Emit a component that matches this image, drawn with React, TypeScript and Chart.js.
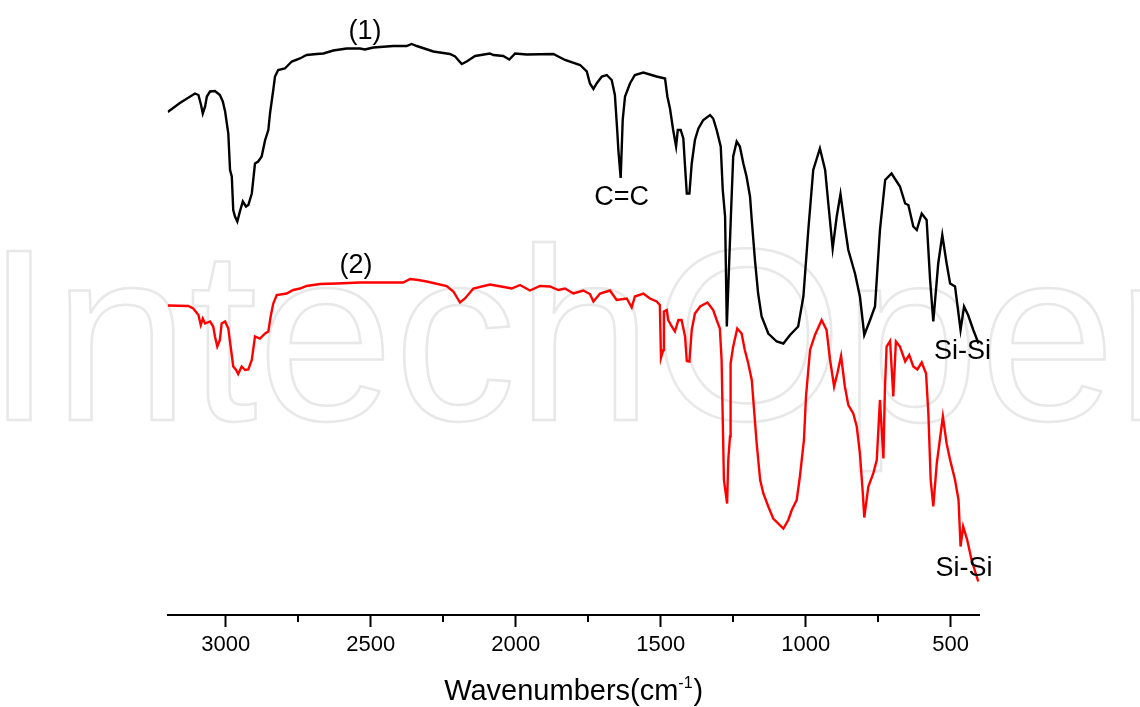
import React, { useEffect, useRef } from 'react';
import { Chart, registerables } from 'chart.js';

Chart.register(...registerables);

// Spectrum (1) – black
const wavenumbers1 = [
  3200, 3158, 3106, 3094, 3085, 3079, 3071, 3065, 3054, 3037,
  3020, 3010, 3002, 2991, 2985, 2979, 2974, 2968, 2960, 2951,
  2941, 2930, 2922, 2910, 2899, 2888, 2876, 2864, 2853, 2847,
  2836, 2830, 2819, 2796, 2772, 2744, 2721, 2686, 2663, 2629,
  2583, 2537, 2520, 2491, 2422, 2376, 2359, 2341, 2284, 2227,
  2209, 2186, 2169, 2140, 2089, 2077, 2043, 2022, 2002, 1962,
  1870, 1830, 1778, 1755, 1744, 1732, 1721, 1703, 1686, 1669,
  1658, 1650, 1646, 1638, 1631, 1623, 1606, 1589, 1560, 1514,
  1485, 1477, 1468, 1457, 1447, 1441, 1431, 1422, 1416, 1410,
  1401, 1393, 1382, 1370, 1353, 1330, 1319, 1307, 1293, 1286,
  1278, 1272, 1264, 1258, 1250, 1238, 1227, 1215, 1204, 1192,
  1186, 1175, 1164, 1152, 1129, 1100, 1077, 1054, 1026, 1008,
  991, 974, 951, 933, 922, 907, 893, 880, 865, 853,
  830, 813, 798, 778, 761, 744, 726, 704, 675, 657,
  646, 629, 617, 600, 583, 571, 560, 543, 529, 514,
  502, 485, 466, 454, 440, 422, 404,
];
const transmittance1 = [
  100.6, 102.4, 104.3, 104, 102, 100.3, 101.7, 103.7, 104.7, 104.8,
  104, 102.7, 100.7, 96.3, 89, 87.7, 81, 79.7, 78.7, 80.7,
  82.7, 81.7, 82, 84.3, 90.3, 90.7, 91.7, 95, 97, 100.4,
  105, 107.7, 109, 109.3, 110.7, 111.3, 112, 112.2, 112.3, 112.9,
  113.3, 113.3, 113.1, 113.5, 113.8, 113.8, 114.2, 113.8, 112.7, 112.2,
  111.7, 110.2, 110.7, 111.8, 112.3, 112, 111.8, 111.1, 112.3, 112.1,
  112.2, 111, 110, 108.7, 106.3, 105.2, 106.3, 107.7, 108, 107,
  104, 97, 93, 87.4, 99, 103.7, 106.3, 108, 108.5, 107.7,
  107.3, 103.7, 101.3, 97, 93.7, 97, 97, 95.3, 89.7, 84.3,
  84.3, 90.3, 95, 97.3, 99, 100, 99.3, 97, 93.7, 85,
  79.7, 57.7, 70.3, 79.7, 91.7, 94.7, 93.7, 90.3, 87.7, 83.7,
  79, 71, 64.3, 59.7, 56.3, 54.7, 54.3, 56, 57.7, 63.7,
  77, 89, 93.3, 89, 82.3, 73.3, 79.7, 84.2, 77.7, 73,
  68.3, 63.7, 56, 59, 61.7, 77, 87, 88.3, 85.7, 82.3,
  82, 77.7, 77, 80.3, 79, 67, 58.7, 70.3, 76, 70.3,
  66.3, 65.7, 57, 61.7, 60, 57, 54.3,
];

// Spectrum (2) – red
const wavenumbers2 = [
  3200, 3129, 3112, 3094, 3086, 3079, 3071, 3054, 3043, 3037,
  3029, 3020, 3014, 3002, 2991, 2983, 2974, 2964, 2957, 2945,
  2933, 2922, 2910, 2899, 2882, 2864, 2853, 2845, 2836, 2824,
  2790, 2767, 2744, 2721, 2675, 2617, 2537, 2388, 2364, 2336,
  2307, 2238, 2215, 2192, 2175, 2146, 2089, 2031, 2014, 1985,
  1951, 1916, 1882, 1853, 1830, 1801, 1767, 1744, 1732, 1709,
  1675, 1652, 1617, 1600, 1589, 1560, 1537, 1514, 1503, 1499,
  1491, 1489, 1479, 1474, 1462, 1451, 1439, 1428, 1416, 1410,
  1401, 1393, 1382, 1364, 1339, 1319, 1307, 1296, 1290, 1282,
  1271, 1267, 1261, 1259, 1250, 1236, 1221, 1210, 1198, 1186,
  1178, 1169, 1157, 1146, 1129, 1112, 1077, 1060, 1048, 1031,
  1020, 1006, 999, 985, 968, 945, 928, 916, 902, 891,
  878, 865, 853, 836, 824, 813, 803, 798, 784, 767,
  755, 744, 732, 727, 721, 709, 698, 689, 675, 657,
  643, 629, 615, 600, 585, 577, 569, 560, 548, 527,
  514, 502, 485, 473, 466, 457, 443, 428, 405,
];
const transmittance2 = [
  61.9, 61.8, 61.3, 60, 58, 59.3, 58.3, 58.7, 57.7, 55.7,
  53.7, 55, 58.3, 58.7, 57.3, 53.7, 49.7, 49, 48.2, 49.7,
  49, 49.1, 51, 55.7, 55.3, 56.3, 56.7, 59.7, 62.3, 64,
  64.3, 65, 65.3, 65.8, 66.2, 66.3, 66.5, 66.5, 67.2, 67,
  66.7, 65.8, 64.7, 62.5, 63.3, 65.3, 66.1, 65.5, 65.3, 66,
  64.9, 65.8, 65.7, 65, 65.3, 64.3, 64.9, 64.2, 62.7, 64.3,
  64.9, 63, 63.3, 61.5, 63.7, 64.3, 63.3, 62.7, 62, 51.4,
  53, 60.7, 61, 59, 57.7, 56.7, 59, 59, 55.7, 50.8,
  50.7, 57, 60.3, 61.7, 62.5, 61, 59, 57.3, 51, 27,
  22.3, 31, 35.7, 50.3, 53.7, 57.3, 56.3, 53, 50.3, 47,
  41, 34.3, 27, 24.3, 21.7, 19.3, 17.3, 19, 21, 23,
  27.7, 35, 43.7, 53, 56, 59, 57, 51, 45.7, 48.3,
  51.8, 45.7, 42, 40.3, 37.7, 32.3, 24.3, 19.5, 25.7, 28.3,
  31, 43, 31.3, 45, 53.7, 54.8, 43.7, 54.7, 53.7, 50.7,
  52, 49.7, 49.1, 50.5, 48.3, 40.3, 27, 21.7, 30.3, 39.7,
  34.3, 31, 27, 23, 13.7, 17.7, 15, 11, 6.7,
];

const majorTicks = [3000, 2500, 2000, 1500, 1000, 500];
const minorTicks = [2750, 2250, 1750, 1250, 750];

const labelTexts = ['(1)', 'C=C', '(2)', 'Si-Si', 'Si-Si'];
const labelWavenumbers = [2520, 1635, 2551, 459, 454];
const labelValues = [116.6, 83.4, 69.8, 52.6, 9.2];

const FONT = '"Liberation Sans", Arial, Helvetica, sans-serif';

const overlayPlugin = {
  id: 'overlay',
  beforeDraw(chart: any) {
    const ctx = chart.ctx;
    ctx.save();
    ctx.font = `245px ${FONT}`;
    ctx.lineWidth = 2.5;
    ctx.strokeStyle = '#e8e8e8';
    ctx.textBaseline = 'alphabetic';
    ctx.textAlign = 'left';
    ctx.strokeText('IntechOpen', -15, 420);
    ctx.restore();
  },
  afterDraw(chart: any) {
    const ctx = chart.ctx;
    const xs = chart.scales.x;
    const ys = chart.scales.y;
    ctx.save();
    // minor ticks
    ctx.strokeStyle = '#000';
    ctx.lineWidth = 2;
    minorTicks.forEach((v) => {
      const px = Math.round(xs.getPixelForValue(v));
      ctx.beginPath();
      ctx.moveTo(px, xs.top);
      ctx.lineTo(px, xs.top + 7);
      ctx.stroke();
    });
    // annotations
    ctx.fillStyle = '#000';
    ctx.font = `27px ${FONT}`;
    ctx.textAlign = 'center';
    ctx.textBaseline = 'middle';
    labelTexts.forEach((t, i) => {
      ctx.fillText(t, xs.getPixelForValue(labelWavenumbers[i]), ys.getPixelForValue(labelValues[i]));
    });
    // axis title with superscript
    const main = 'Wavenumbers(cm';
    const sup = '-1';
    const close = ')';
    ctx.textAlign = 'left';
    ctx.textBaseline = 'alphabetic';
    ctx.font = `29px ${FONT}`;
    const wMain = ctx.measureText(main).width;
    const wClose = ctx.measureText(close).width;
    ctx.font = `16px ${FONT}`;
    const wSup = ctx.measureText(sup).width;
    const total = wMain + wSup + wClose + 1;
    const cx = (xs.left + xs.right) / 2;
    let x0 = cx - total / 2;
    const base = 700;
    ctx.font = `29px ${FONT}`;
    ctx.fillText(main, x0, base);
    x0 += wMain;
    ctx.font = `16px ${FONT}`;
    ctx.fillText(sup, x0, base - 12);
    x0 += wSup + 1;
    ctx.font = `29px ${FONT}`;
    ctx.fillText(close, x0, base);
    ctx.restore();
  },
};

export default function App() {
  const ref = useRef<HTMLCanvasElement | null>(null);
  useEffect(() => {
    if (!ref.current) return;
    const chart = new Chart(ref.current, {
      type: 'scatter',
      data: {
        datasets: [
          {
            label: '(1)',
            data: wavenumbers1.map((w, i) => ({ x: w, y: transmittance1[i] })),
            showLine: true,
            borderColor: '#000000',
            borderWidth: 2.4,
            pointRadius: 0,
            tension: 0,
          },
          {
            label: '(2)',
            data: wavenumbers2.map((w, i) => ({ x: w, y: transmittance2[i] })),
            showLine: true,
            borderColor: '#ff0000',
            borderWidth: 2.4,
            pointRadius: 0,
            tension: 0,
          },
        ],
      },
      options: {
        responsive: false,
        animation: false,
        layout: { padding: { left: 167.7, right: 160.3, top: 15, bottom: 0 } },
        plugins: {
          legend: { display: false },
          tooltip: { enabled: false },
          title: { display: false },
        },
        scales: {
          x: {
            type: 'linear',
            position: 'bottom',
            reverse: true,
            min: 400,
            max: 3200,
            afterBuildTicks: (s: any) => {
              s.ticks = majorTicks.map((v) => ({ value: v }));
            },
            afterFit: (s: any) => {
              s.height = 92;
            },
            grid: {
              display: true,
              drawOnChartArea: false,
              drawTicks: true,
              tickLength: 12,
              tickWidth: 2,
              tickColor: '#000',
            },
            border: { display: true, color: '#000', width: 2 },
            ticks: {
              color: '#000',
              font: { family: FONT, size: 22 },
              padding: 5,
              maxRotation: 0,
              autoSkip: false,
              callback: (v: any) => String(v),
            },
          },
          y: { display: false, min: 0, max: 120 },
        },
      },
      plugins: [overlayPlugin],
    });
    return () => chart.destroy();
  }, []);
  return (
    <div style={{ position: 'fixed', left: 0, top: 0, width: 1140, height: 707, background: '#fff' }}>
      <canvas ref={ref} width={1140} height={707} style={{ display: 'block' }} />
    </div>
  );
}
